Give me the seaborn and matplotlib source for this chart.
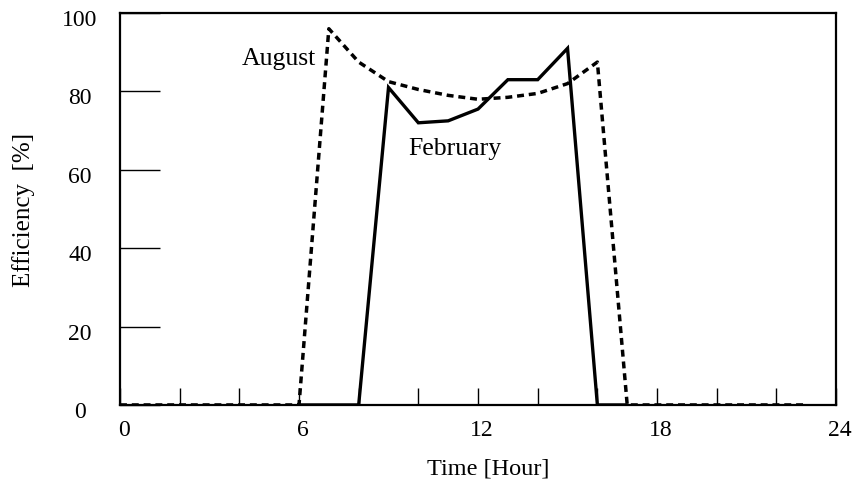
import matplotlib
matplotlib.use("Agg")
import matplotlib.pyplot as plt
import matplotlib.transforms as mtransforms
import seaborn as sns
import pandas as pd

# Hourly efficiency readings
feb_hours = [6, 7, 8, 9, 10, 11, 12, 13, 14, 15, 16, 17]
feb_eff = [0, 0, 0, 81, 72, 72.5, 75.5, 83, 83, 91, 0, 0]

aug_hours = list(range(0, 24))
aug_eff = [0, 0, 0, 0, 0, 0, 0, 96, 87.5, 82.5, 80.5, 79, 78, 78.5, 79.5, 82, 87.5,
           0, 0, 0, 0, 0, 0, 0]

x_ticks = [0, 6, 12, 18, 24]
y_ticks = [0, 20, 40, 60, 80, 100]

sns.set_style("white")
plt.rcParams["font.family"] = ["Liberation Serif", "DejaVu Serif"]
plt.rcParams.update({"text.color": "black", "axes.labelcolor": "black",
                     "xtick.color": "black", "ytick.color": "black"})

df = pd.concat([
    pd.DataFrame({"hour": feb_hours, "eff": feb_eff, "month": "February"}),
    pd.DataFrame({"hour": aug_hours, "eff": aug_eff, "month": "August"}),
])

fig = plt.figure(figsize=(8.54, 4.85), dpi=100)
ax = fig.add_axes([0.1405, 0.163, 0.8385, 0.808])

sns.lineplot(data=df[df.month == "February"], x="hour", y="eff", ax=ax,
             color="black", lw=2.4, solid_joinstyle="miter")
sns.lineplot(data=df[df.month == "August"], x="hour", y="eff", ax=ax,
             color="black", lw=2.5, dashes=False, linestyle=(0, (2.0, 1.4)))

ax.set_xlim(0, 24)
ax.set_ylim(0, 100)
ax.set_xticks(x_ticks)
ax.set_xticks(range(0, 25, 2), minor=True)
ax.set_yticks(y_ticks)

ax.tick_params(axis="x", which="both", bottom=True, direction="in", length=12,
               width=1, color="black")
ax.tick_params(axis="x", which="major", labelsize=17, pad=10)
ax.tick_params(axis="y", left=True, direction="in", length=29, width=1,
               labelsize=17, pad=28.8, color="black")

# y tick labels are centred under a common column; x labels sit slightly right
for lab in ax.get_yticklabels():
    lab.set_horizontalalignment("center")
    lab.set_transform(lab.get_transform()
                      + mtransforms.ScaledTranslation(0, -4 / 100, fig.dpi_scale_trans))
for lab in ax.get_xticklabels():
    lab.set_transform(lab.get_transform()
                      + mtransforms.ScaledTranslation(4 / 100, 0, fig.dpi_scale_trans))

for s in ax.spines.values():
    s.set_visible(True)
    s.set_color("black")
    s.set_linewidth(1.6)

ax.set_xlabel("Time [Hour]", fontsize=17.5)
ax.xaxis.label.set_verticalalignment("baseline")
ax.xaxis.set_label_coords(0.514, -0.174)
ax.set_ylabel("Efficiency  [%]", fontsize=18)
ax.yaxis.set_label_coords(-0.118, 0.5)

ax.text(4.09, 87, "August", fontsize=18.5, ha="left", va="baseline")
ax.text(9.65, 64, "February", fontsize=18.5, ha="left", va="baseline")

ax.grid(False)
fig.savefig("out.png", dpi=100, facecolor="white")
